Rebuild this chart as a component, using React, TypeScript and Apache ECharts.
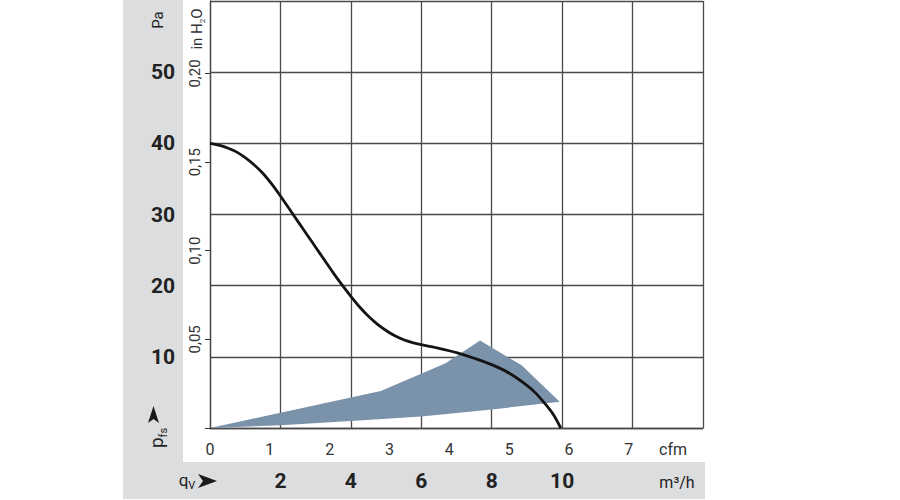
import React, { useEffect, useRef } from "react";
import * as echarts from "echarts";

// ---- data ----
// characteristic curve: flow in m³/h, static pressure in Pa
const curveFlow = [0, 0.25, 0.5, 0.75, 1, 1.25, 1.5, 1.75, 2, 2.25, 2.5, 2.75, 3, 3.25, 3.5, 3.75, 4, 4.25, 4.5, 4.75, 5, 5.25, 5.5, 5.75, 6, 6.5, 7, 7.5, 8, 8.5, 9, 9.25, 9.5, 9.75, 9.96];
const curvePa = [40, 39.75, 39.35, 38.8, 38.0, 37.0, 35.8, 34.3, 32.6, 30.8, 29.0, 27.2, 25.4, 23.6, 21.8, 20.1, 18.5, 17.0, 15.7, 14.6, 13.7, 12.95, 12.4, 12.0, 11.7, 11.2, 10.6, 9.8, 8.9, 7.7, 6.0, 4.9, 3.5, 1.9, 0];

// operating range polygon (upper edge then lower edge back)
const polyFlow = [0, 4.85, 6.69, 7.67, 8.85, 9.93, 8, 6, 4, 2, 0];
const polyPa = [0, 5.2, 9.1, 12.3, 8.8, 3.7, 2.6, 1.6, 1.0, 0.4, 0];

// axis tick labels
const m3hLabels = [2, 4, 6, 8, 10];
const cfmLabels = [0, 1, 2, 3, 4, 5, 6, 7];
const paLabels = [10, 20, 30, 40, 50];
const inH2oLabels = [0.05, 0.1, 0.15, 0.2];

const M3H_PER_CFM = 1.69901;
const PA_PER_INH2O = 249.089;

const NARROW = "'Liberation Sans Narrow', 'Roboto', 'Noto Sans', sans-serif";

export default function App() {
  const ref = useRef<HTMLDivElement>(null);
  useEffect(() => {
    if (!ref.current) return;
    const chart = echarts.init(ref.current, undefined, { renderer: "svg" });
    const gridColor = "#4a4a4a";
    chart.setOption({
      animation: false,
      backgroundColor: "#ffffff",
      grid: { left: 210, right: 197, top: 1, bottom: 72, containLabel: false },
      xAxis: [
        {
          type: "value",
          min: 0,
          max: 14,
          interval: 2,
          position: "bottom",
          axisLine: { show: true, lineStyle: { color: gridColor, width: 1.3 } },
          axisTick: { show: false },
          splitLine: { show: true, lineStyle: { color: gridColor, width: 1.3 } },
          axisLabel: {
            margin: 42,
            fontSize: 21,
            fontWeight: "bold",
            fontFamily: NARROW,
            color: "#222",
            showMinLabel: false,
            showMaxLabel: false,
            formatter: (v: number) => (m3hLabels.includes(v) ? String(v) : ""),
          },
        },
        {
          type: "value",
          min: 0,
          max: 14 / M3H_PER_CFM,
          interval: 1,
          position: "bottom",
          axisLine: { show: false },
          axisTick: { show: false },
          splitLine: { show: false },
          axisLabel: {
            margin: 13,
            fontSize: 16,
            fontFamily: NARROW,
            color: "#333",
            showMaxLabel: false,
            formatter: (v: number) => (cfmLabels.includes(v) ? String(v) : ""),
          },
        },
      ],
      yAxis: [
        {
          type: "value",
          min: 0,
          max: 60,
          interval: 10,
          position: "left",
          axisLine: { show: true, lineStyle: { color: gridColor, width: 1.3 } },
          axisTick: { show: false },
          splitLine: { show: true, lineStyle: { color: gridColor, width: 1.3 } },
          axisLabel: {
            margin: 47,
            align: "center",
            fontSize: 21,
            fontWeight: "bold",
            fontFamily: NARROW,
            color: "#222",
            formatter: (v: number) => (paLabels.includes(v) ? String(v) : ""),
          },
        },
        {
          type: "value",
          min: 0,
          max: 60 / PA_PER_INH2O,
          interval: 0.05,
          position: "left",
          axisLine: { show: false },
          axisTick: { show: true, inside: false, length: 5, lineStyle: { color: "#333", width: 1 } },
          splitLine: { show: false },
          axisLabel: {
            rotate: 90,
            margin: 8,
            fontSize: 15,
            fontFamily: NARROW,
            color: "#333",
            showMaxLabel: false,
            formatter: (v: number) => {
              const hit = inH2oLabels.find((t) => Math.abs(t - v) < 1e-6);
              return hit ? hit.toFixed(2).replace(".", ",") : "";
            },
          },
        },
      ],
      graphic: [
        { type: "rect", z: -10, shape: { x: 123, y: 0, width: 60, height: 462 }, style: { fill: "#dcdddf" } },
        { type: "rect", z: -10, shape: { x: 123, y: 462, width: 582, height: 37 }, style: { fill: "#dcdddf" } },
        {
          type: "text",
          x: 158,
          y: 20,
          rotation: Math.PI / 2,
          style: { text: "Pa", fontSize: 15, fontFamily: NARROW, fill: "#222", align: "center", verticalAlign: "middle" },
        },
        {
          type: "text",
          x: 197,
          y: 29,
          rotation: Math.PI / 2,
          style: {
            text: "in H{sub|2}O",
            fontSize: 15,
            fontFamily: NARROW,
            fill: "#333",
            align: "center",
            verticalAlign: "middle",
            rich: { sub: { fontSize: 8, fontFamily: NARROW, fill: "#333", verticalAlign: "bottom", lineHeight: 18 } },
          },
        },
        {
          type: "text",
          x: 156,
          y: 438,
          rotation: Math.PI / 2,
          style: {
            text: "p{sub|fs}",
            fontSize: 19,
            fontFamily: NARROW,
            fill: "#222",
            align: "center",
            verticalAlign: "middle",
            rich: { sub: { fontSize: 11, fontFamily: NARROW, fill: "#222", verticalAlign: "bottom", lineHeight: 26 } },
          },
        },
        { type: "polygon", shape: { points: [[148, 423], [153.5, 406], [159, 423], [153.5, 419]] }, style: { fill: "#1a1a1a" } },
        {
          type: "text",
          x: 187,
          y: 480,
          style: {
            text: "q{sub|V}",
            fontSize: 17,
            fontFamily: NARROW,
            fill: "#222",
            align: "center",
            verticalAlign: "middle",
            rich: { sub: { fontSize: 11, fontFamily: NARROW, fill: "#222", verticalAlign: "bottom", lineHeight: 22 } },
          },
        },
        { type: "polygon", shape: { points: [[198, 474], [217, 481], [198, 488], [203, 481]] }, style: { fill: "#1a1a1a" } },
        {
          type: "text",
          x: 673,
          y: 449,
          style: { text: "cfm", fontSize: 16, fontFamily: NARROW, fill: "#333", align: "center", verticalAlign: "middle" },
        },
        {
          type: "text",
          x: 677,
          y: 482,
          style: { text: "m³/h", fontSize: 16, fontFamily: NARROW, fill: "#222", align: "center", verticalAlign: "middle" },
        },
      ],
      series: [
        {
          type: "custom",
          xAxisIndex: 0,
          yAxisIndex: 0,
          z: 1,
          silent: true,
          data: polyFlow.map((f, i) => [f, polyPa[i]]),
          encode: { x: 0, y: 1 },
          renderItem: (params: any, api: any) => {
            if (params.dataIndex !== 0) return null;
            const pts = polyFlow.map((f, i) => api.coord([f, polyPa[i]]));
            return { type: "polygon", shape: { points: pts }, style: { fill: "#7a92aa" } };
          },
        },
        {
          type: "line",
          xAxisIndex: 0,
          yAxisIndex: 0,
          z: 3,
          smooth: 0.3,
          symbol: "none",
          data: curveFlow.map((f, i) => [f, curvePa[i]]),
          lineStyle: { color: "#141414", width: 2.8 },
        },
      ],
    });
    return () => chart.dispose();
  }, []);
  return <div ref={ref} style={{ position: "fixed", left: 0, top: 0, width: 900, height: 500 }} />;
}
